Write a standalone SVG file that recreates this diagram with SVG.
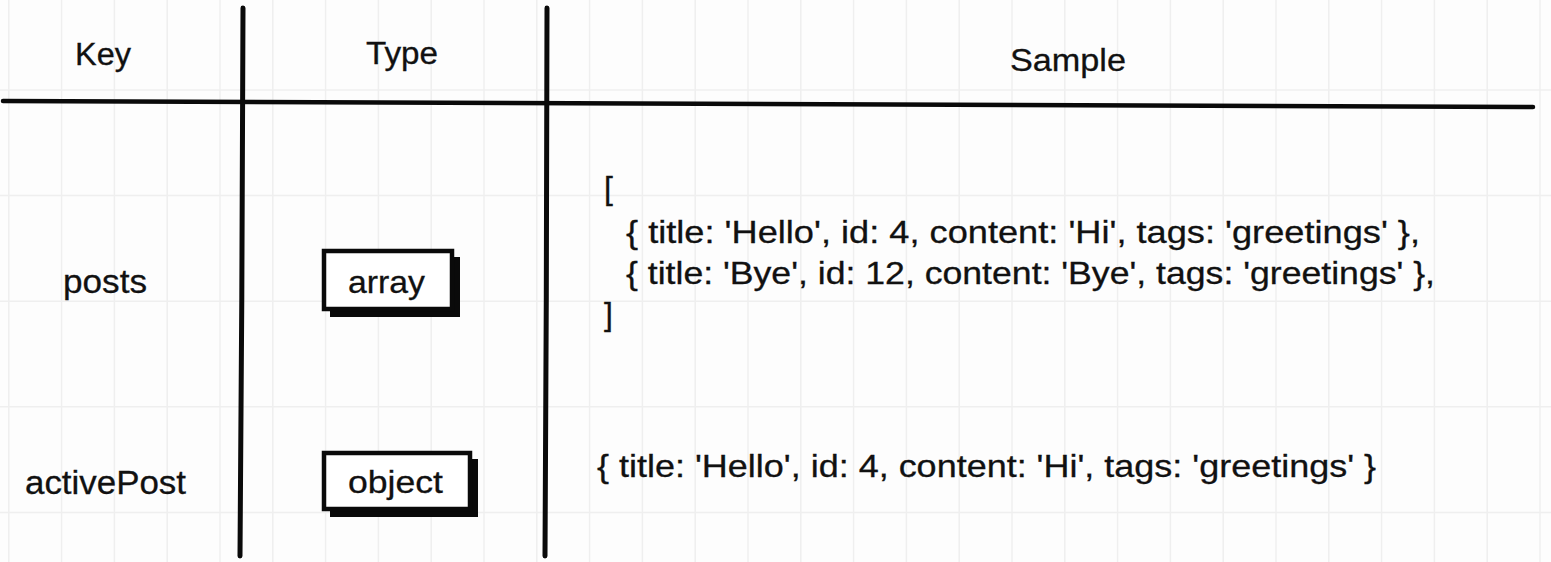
<svg xmlns="http://www.w3.org/2000/svg" width="1551" height="562" viewBox="0 0 1551 562">
<defs>
<style>
.grid line{stroke:#efefef;stroke-width:1.5}
.t{font-family:"Liberation Sans",Arial,sans-serif;fill:#111;stroke:#111;stroke-width:0.3}
.h{font-size:31px}
.k{font-size:34px}
.s{font-size:32px}
.rule{fill:none;stroke:#0a0a0a;stroke-linecap:round}
.box{fill:#fff;stroke:#0a0a0a;stroke-width:4.5}
.shadow{fill:#0a0a0a}
</style>
</defs>
<rect width="1551" height="562" fill="#fdfdfd"/>
<g class="grid">
<line x1="8.8" y1="0" x2="8.8" y2="562"/><line x1="61.6" y1="0" x2="61.6" y2="562"/><line x1="114.4" y1="0" x2="114.4" y2="562"/><line x1="167.2" y1="0" x2="167.2" y2="562"/><line x1="220" y1="0" x2="220" y2="562"/><line x1="272.8" y1="0" x2="272.8" y2="562"/><line x1="325.6" y1="0" x2="325.6" y2="562"/><line x1="378.4" y1="0" x2="378.4" y2="562"/><line x1="431.2" y1="0" x2="431.2" y2="562"/><line x1="484" y1="0" x2="484" y2="562"/><line x1="536.8" y1="0" x2="536.8" y2="562"/><line x1="589.6" y1="0" x2="589.6" y2="562"/><line x1="642.4" y1="0" x2="642.4" y2="562"/><line x1="695.2" y1="0" x2="695.2" y2="562"/><line x1="748" y1="0" x2="748" y2="562"/><line x1="800.8" y1="0" x2="800.8" y2="562"/><line x1="853.6" y1="0" x2="853.6" y2="562"/><line x1="906.4" y1="0" x2="906.4" y2="562"/><line x1="959.2" y1="0" x2="959.2" y2="562"/><line x1="1012" y1="0" x2="1012" y2="562"/><line x1="1064.8" y1="0" x2="1064.8" y2="562"/><line x1="1117.6" y1="0" x2="1117.6" y2="562"/><line x1="1170.4" y1="0" x2="1170.4" y2="562"/><line x1="1223.2" y1="0" x2="1223.2" y2="562"/><line x1="1276" y1="0" x2="1276" y2="562"/><line x1="1328.8" y1="0" x2="1328.8" y2="562"/><line x1="1381.6" y1="0" x2="1381.6" y2="562"/><line x1="1434.4" y1="0" x2="1434.4" y2="562"/><line x1="1487.2" y1="0" x2="1487.2" y2="562"/><line x1="1540" y1="0" x2="1540" y2="562"/>
<line x1="0" y1="90" x2="1551" y2="90"/><line x1="0" y1="195.6" x2="1551" y2="195.6"/><line x1="0" y1="301.2" x2="1551" y2="301.2"/><line x1="0" y1="406.8" x2="1551" y2="406.8"/><line x1="0" y1="512.4" x2="1551" y2="512.4"/>
</g>
<g id="connectors">
<path class="rule" stroke-width="4.5" d="M3 101 C 400 102, 900 104, 1533 107"/>
<path class="rule" stroke-width="5" d="M243 8 C 242 150, 242 400, 240 556"/>
<path class="rule" stroke-width="5" d="M547 8 C 547 150, 546 400, 545 556"/>
</g>
<g id="header-key"><text class="t h" x="75" y="65" textLength="56" lengthAdjust="spacingAndGlyphs">Key</text></g>
<g id="header-type"><text class="t h" x="366" y="64" textLength="72" lengthAdjust="spacingAndGlyphs">Type</text></g>
<g id="header-sample"><text class="t s" x="1010" y="71" textLength="116" lengthAdjust="spacingAndGlyphs">Sample</text></g>
<g id="key-posts"><text class="t k" x="63" y="293" textLength="84" lengthAdjust="spacingAndGlyphs">posts</text></g>
<g id="key-activePost"><text class="t k" x="25" y="494" textLength="161" lengthAdjust="spacingAndGlyphs">activePost</text></g>
<g id="type-array">
<rect class="shadow" x="330" y="257" width="130" height="60"/>
<rect class="box" x="324" y="251" width="128" height="58"/>
<text class="t s" x="348" y="293" textLength="77" lengthAdjust="spacingAndGlyphs">array</text>
</g>
<g id="type-object">
<rect class="shadow" x="330" y="459" width="148" height="58"/>
<rect class="box" x="324" y="453" width="146" height="56"/>
<text class="t s" x="348" y="493" textLength="95" lengthAdjust="spacingAndGlyphs">object</text>
</g>
<g id="sample-posts">
<text class="t s" x="604" y="199">[</text>
<text class="t s" x="626" y="243" textLength="794" lengthAdjust="spacingAndGlyphs">{ title: 'Hello', id: 4, content: 'Hi', tags: 'greetings' },</text>
<text class="t s" x="626" y="284" textLength="809" lengthAdjust="spacingAndGlyphs">{ title: 'Bye', id: 12, content: 'Bye', tags: 'greetings' },</text>
<text class="t s" x="604" y="325">]</text>
</g>
<g id="sample-activePost">
<text class="t s" x="597" y="477" textLength="779" lengthAdjust="spacingAndGlyphs">{ title: 'Hello', id: 4, content: 'Hi', tags: 'greetings' }</text>
</g>
</svg>
